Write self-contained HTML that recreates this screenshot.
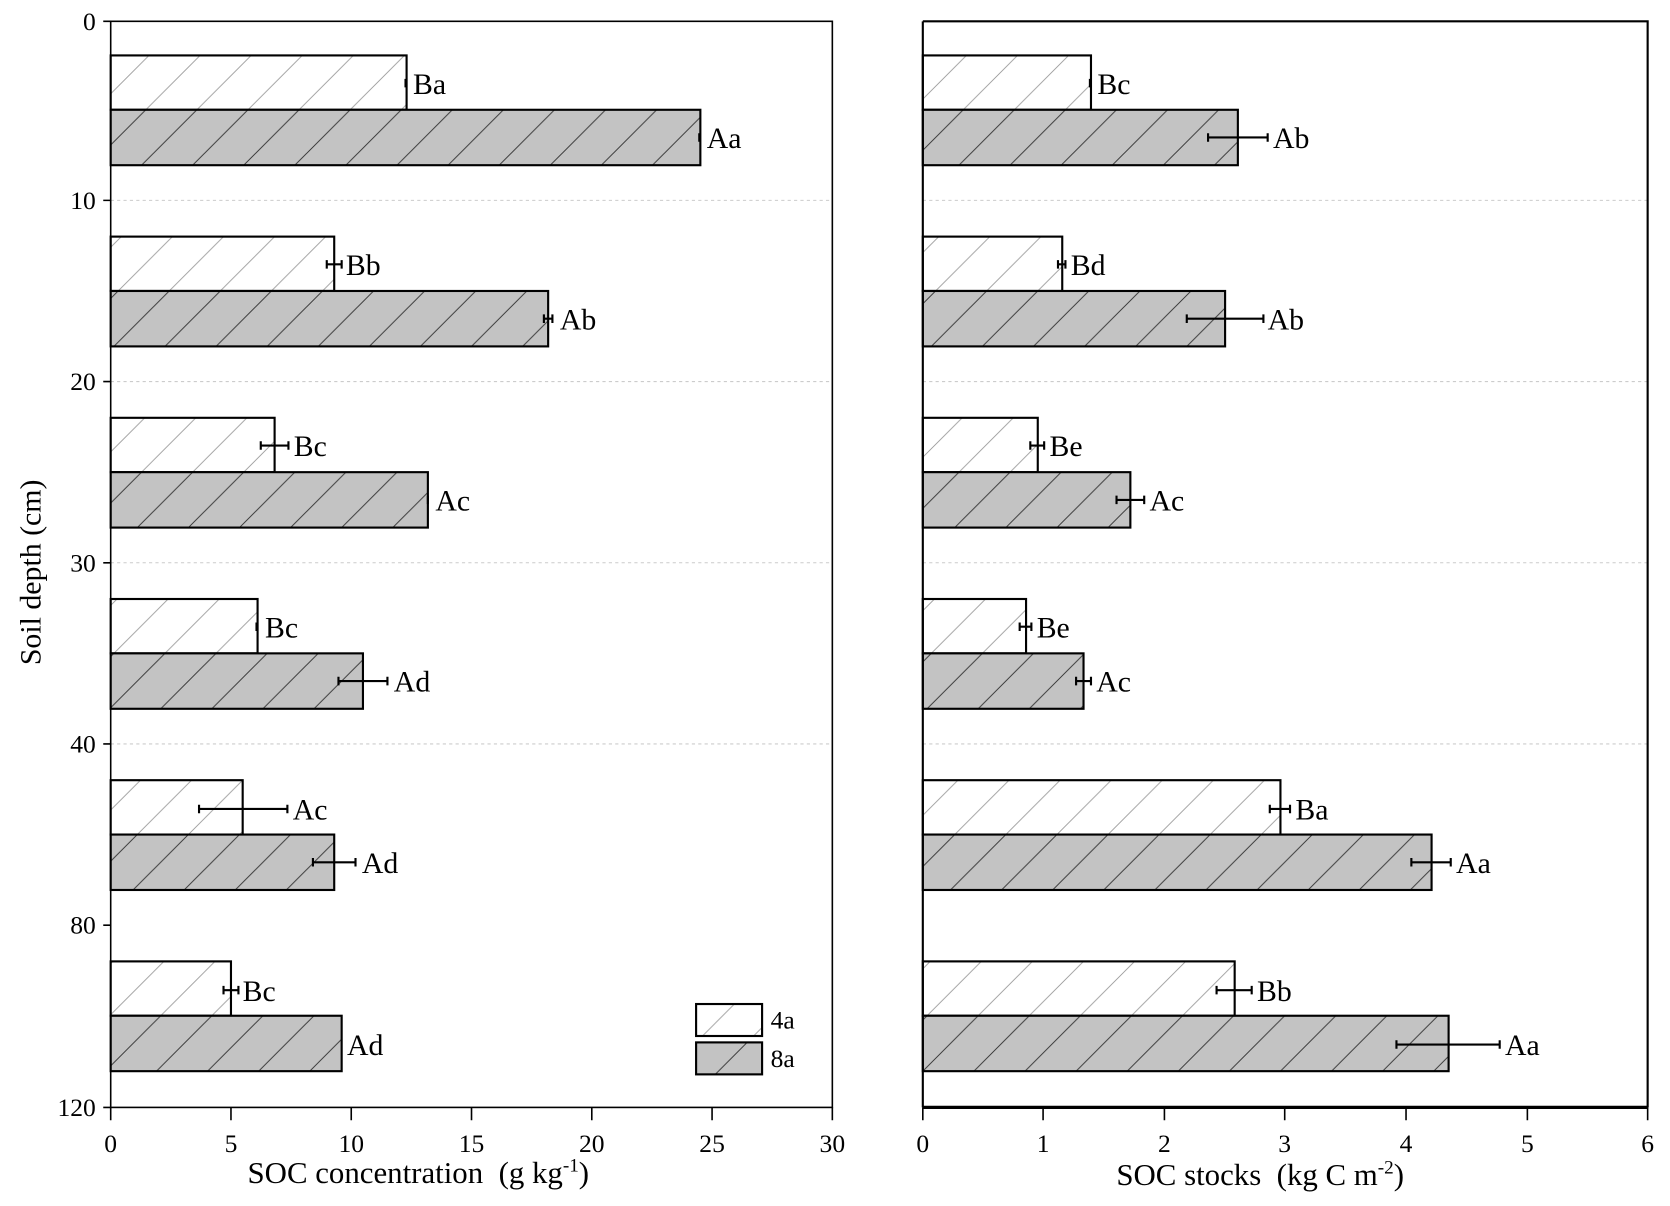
<!DOCTYPE html>
<html><head><meta charset="utf-8"><style>html,body{margin:0;padding:0;background:#fff}svg{display:block}</style></head>
<body>
<svg width="1670" height="1206" viewBox="0 0 1569 1131.5" preserveAspectRatio="none" font-family="Liberation Serif, serif">
<defs>
<pattern id="h1" patternUnits="userSpaceOnUse" width="48" height="48"><path d="M0,48 L48,0 M-12,12 L12,-12 M36,60 L60,36" stroke="#999" stroke-width="0.8"/></pattern>
<pattern id="h2" patternUnits="userSpaceOnUse" width="48" height="48"><rect width="48" height="48" fill="#c3c3c3"/><path d="M0,48 L48,0 M-12,12 L12,-12 M36,60 L60,36" stroke="#333" stroke-width="0.9"/></pattern>
</defs>
<g stroke="#ccc" stroke-width="1" stroke-dasharray="3,3">
<line x1="104" x2="782" y1="188" y2="188"/><line x1="104" x2="782" y1="358" y2="358"/><line x1="104" x2="782" y1="528" y2="528"/><line x1="104" x2="782" y1="698" y2="698"/>
<line x1="867" x2="1548" y1="188" y2="188"/><line x1="867" x2="1548" y1="358" y2="358"/><line x1="867" x2="1548" y1="528" y2="528"/><line x1="867" x2="1548" y1="698" y2="698"/>
</g>
<g stroke="#000" stroke-width="2">
<rect x="104" y="52" width="278" height="51" fill="url(#h1)"/><rect x="104" y="103" width="554" height="52" fill="url(#h2)"/>
<rect x="104" y="222" width="210" height="51" fill="url(#h1)"/><rect x="104" y="273" width="411" height="52" fill="url(#h2)"/>
<rect x="104" y="392" width="154" height="51" fill="url(#h1)"/><rect x="104" y="443" width="298" height="52" fill="url(#h2)"/>
<rect x="104" y="562" width="138" height="51" fill="url(#h1)"/><rect x="104" y="613" width="237" height="52" fill="url(#h2)"/>
<rect x="104" y="732" width="124" height="51" fill="url(#h1)"/><rect x="104" y="783" width="210" height="52" fill="url(#h2)"/>
<rect x="104" y="902" width="113" height="51" fill="url(#h1)"/><rect x="104" y="953" width="217" height="52" fill="url(#h2)"/>
<rect x="654" y="942" width="62" height="30" fill="url(#h1)"/><rect x="654" y="978" width="62" height="30" fill="url(#h2)"/>
</g>
<g stroke="#000" stroke-width="2">
<rect x="867" y="52" width="158" height="51" fill="url(#h1)"/><rect x="867" y="103" width="296" height="52" fill="url(#h2)"/>
<rect x="867" y="222" width="131" height="51" fill="url(#h1)"/><rect x="867" y="273" width="284" height="52" fill="url(#h2)"/>
<rect x="867" y="392" width="108" height="51" fill="url(#h1)"/><rect x="867" y="443" width="195" height="52" fill="url(#h2)"/>
<rect x="867" y="562" width="97" height="51" fill="url(#h1)"/><rect x="867" y="613" width="151" height="52" fill="url(#h2)"/>
<rect x="867" y="732" width="336" height="51" fill="url(#h1)"/><rect x="867" y="783" width="478" height="52" fill="url(#h2)"/>
<rect x="867" y="902" width="293" height="51" fill="url(#h1)"/><rect x="867" y="953" width="494" height="52" fill="url(#h2)"/>
</g>
<g stroke="#000" stroke-width="2">
<path d="M381,74v8 M657,125v8"/>
<path d="M307,248h14 M307,244v8 M321,244v8 M511,299h8 M511,295v8 M519,295v8"/>
<path d="M245,418h26 M245,414v8 M271,414v8 M402,465v8"/>
<path d="M241,584v8 M318,639h46 M318,635v8 M364,635v8"/>
<path d="M187,759h83 M187,755v8 M270,755v8 M294,809h40 M294,805v8 M334,805v8"/>
<path d="M210,929h14 M210,925v8 M224,925v8"/>
<path d="M1024,74v8 M1135,129h56 M1135,125v8 M1191,125v8"/>
<path d="M994,248h7 M994,244v8 M1001,244v8 M1115,299h72 M1115,295v8 M1187,295v8"/>
<path d="M968,418h13 M968,414v8 M981,414v8 M1049,469h26 M1049,465v8 M1075,465v8"/>
<path d="M958,588h11 M958,584v8 M969,584v8 M1011,639h14 M1011,635v8 M1025,635v8"/>
<path d="M1193,759h19 M1193,755v8 M1212,755v8 M1326,809h37 M1326,805v8 M1363,805v8"/>
<path d="M1143,929h33 M1143,925v8 M1176,925v8 M1312,980h97 M1312,976v8 M1409,976v8"/>
</g>
<rect x="104" y="20" width="678" height="1019" fill="none" stroke="#000" stroke-width="1.5"/>
<path d="M867,20 H1548 V1039 M867,20 V1039" fill="none" stroke="#000" stroke-width="2"/>
<line x1="867" x2="1548" y1="1039" y2="1039" stroke="#000" stroke-width="3"/>
<g stroke="#000" stroke-width="1.5">
<path d="M97,20h7 M97,188h7 M97,358h7 M97,528h7 M97,698h7 M97,868h7 M97,1039h7"/>
<path d="M104,1039v12 M217,1039v12 M330,1039v12 M443,1039v12 M556,1039v12 M669,1039v12 M782,1039v12"/>
<path d="M867,1039v12 M980,1039v12 M1094,1039v12 M1207,1039v12 M1321,1039v12 M1435,1039v12 M1548,1039v12"/>
</g>
<g font-size="24" text-anchor="end" fill="#000">
<text x="90" y="28">0</text><text x="90" y="196">10</text><text x="90" y="366">20</text><text x="90" y="536">30</text><text x="90" y="706">40</text><text x="90" y="876">80</text><text x="90" y="1047">120</text>
</g>
<g font-size="24" text-anchor="middle" fill="#000">
<text x="104" y="1081">0</text><text x="217" y="1081">5</text><text x="330" y="1081">10</text><text x="443" y="1081">15</text><text x="556" y="1081">20</text><text x="669" y="1081">25</text><text x="782" y="1081">30</text>
<text x="867" y="1081">0</text><text x="980" y="1081">1</text><text x="1094" y="1081">2</text><text x="1207" y="1081">3</text><text x="1321" y="1081">4</text><text x="1435" y="1081">5</text><text x="1548" y="1081">6</text>
</g>
<text x="393" y="1110" font-size="29" text-anchor="middle" xml:space="preserve">SOC concentration  (g kg<tspan font-size="18" dy="-11">-1</tspan><tspan dy="11">)</tspan></text>
<text x="1184" y="1112" font-size="29" text-anchor="middle" xml:space="preserve">SOC stocks  (kg C m<tspan font-size="18" dy="-11">-2</tspan><tspan dy="11">)</tspan></text>
<text transform="translate(38,537) rotate(-90)" font-size="28" text-anchor="middle">Soil depth (cm)</text>
<g font-size="28" fill="#000">
<text x="388" y="88">Ba</text><text x="664" y="139">Aa</text>
<text x="325" y="258">Bb</text><text x="526" y="309">Ab</text>
<text x="276" y="428">Bc</text><text x="409" y="479">Ac</text>
<text x="249" y="598">Bc</text><text x="370" y="649">Ad</text>
<text x="275" y="769">Ac</text><text x="340" y="819">Ad</text>
<text x="228" y="939">Bc</text><text x="326" y="990">Ad</text>
<text x="1031" y="88">Bc</text><text x="1196" y="139">Ab</text>
<text x="1006" y="258">Bd</text><text x="1191" y="309">Ab</text>
<text x="986" y="428">Be</text><text x="1080" y="479">Ac</text>
<text x="974" y="598">Be</text><text x="1030" y="649">Ac</text>
<text x="1217" y="769">Ba</text><text x="1368" y="819">Aa</text>
<text x="1181" y="939">Bb</text><text x="1414" y="990">Aa</text>
</g>
<g font-size="24"><text x="724" y="965">4a</text><text x="724" y="1001">8a</text></g>
</svg>
</body></html>
